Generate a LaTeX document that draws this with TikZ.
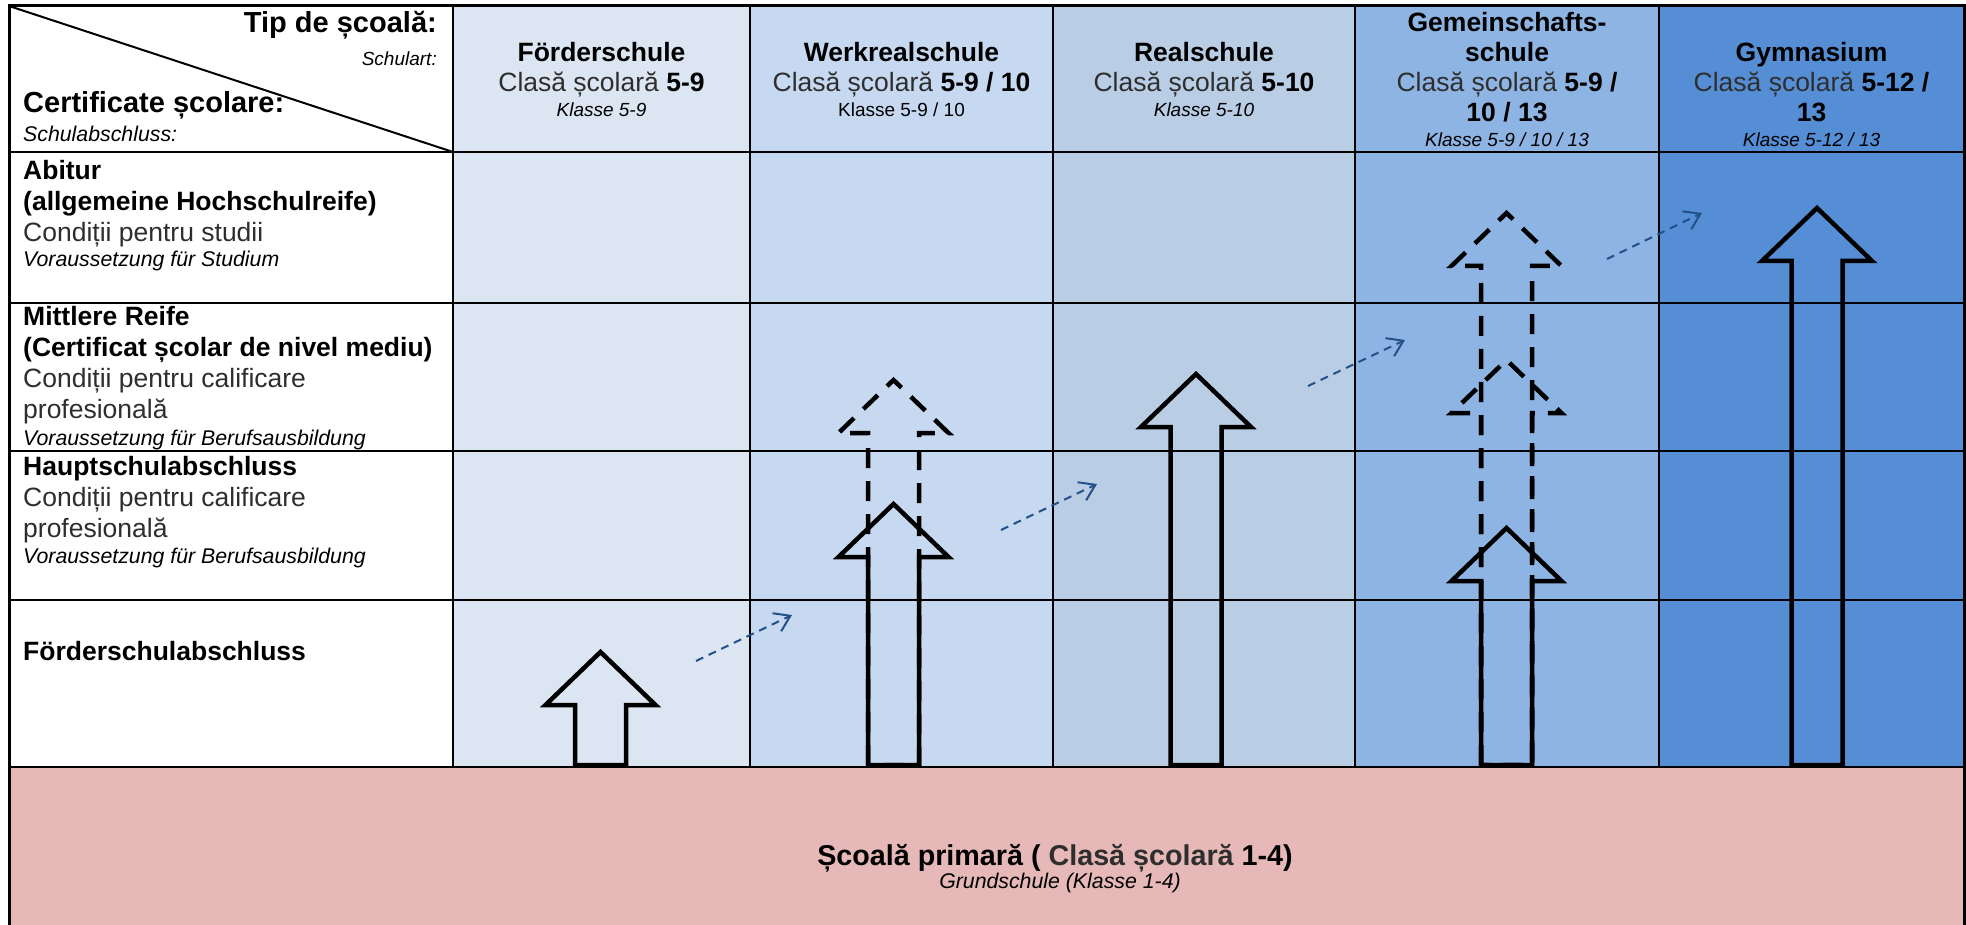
\documentclass[tikz,border=0pt]{standalone}
\usepackage{fontspec}
\setmainfont{Liberation Sans}
\usepackage{tikz}
\usetikzlibrary{positioning}
\usetikzlibrary{arrows.meta}

\definecolor{colFoerder}{HTML}{DCE6F2}
\definecolor{colWerk}{HTML}{C6D9F1}
\definecolor{colReal}{HTML}{B9CDE5}
\definecolor{colGemein}{HTML}{8EB4E3}
\definecolor{colGym}{HTML}{558ED5}
\definecolor{colPrimary}{HTML}{E6B9B8}
\definecolor{switchBlue}{HTML}{24508A}
\definecolor{textgray}{HTML}{2E2E2E}

\newcommand{\mainsize}{\fontsize{26.5}{30}\selectfont}
\newcommand{\rowsize}{\fontsize{26.5}{31}\selectfont}
\newcommand{\bigsize}{\fontsize{29}{34}\selectfont}
\newcommand{\notesize}{\fontsize{21.3}{26}\selectfont}
\newcommand{\smallsize}{\fontsize{19}{25}\selectfont}
\newcommand{\clasa}[1]{{\color{textgray}Clasă școlară} \textbf{#1}}

% grade arrow: [style]{x of centre}{y of tip}
\newcommand{\gradearrow}[3][path_solid]{%
  \draw[#1] ({#2-25.5},765) -- ({#2-25.5},{#3+53}) -- ({#2-55},{#3+53}) -- (#2,#3)
    -- ({#2+55},{#3+53}) -- ({#2+25.5},{#3+53}) -- ({#2+25.5},765) -- cycle;}

\tikzset{
        % Lines of the table
        grid_line/.style={black, line width=2pt},
        % Outer frame
        frame_line/.style={black, line width=3pt},
        % Column heads (placed by their last line)
        head_text/.style={align=center, inner sep=0pt, anchor=base, font=\mainsize},
        % Row heads (placed by their last line)
        row_text/.style={align=left, inner sep=0pt, anchor=base west, font=\rowsize},
        % Solid arrows
        path_solid/.style={draw=black, line width=4.5pt},
        % Dashed arrows
        path_dashed/.style={path_solid, dash pattern=on 20pt off 13pt},
        % Change-over arrows
        switch_arrow/.style={draw=switchBlue, line width=2pt, dash pattern=on 8pt off 6pt,
                -{Straight Barb[length=15pt,width=20pt]}}
}

\begin{document}
\begin{tikzpicture}[x=1pt, y=-1pt]
    \useasboundingbox (0,0) rectangle (1966,925);
    % cells
    \foreach \xa/\xb/\c in {453/750/colFoerder, 750/1053/colWerk, 1053/1355/colReal,
            1355/1659/colGemein, 1659/1964.5/colGym}
        \fill[\c] (\xa,6) rectangle (\xb,767);
    \fill[colPrimary] (9,767) rectangle (1964.5,925);

    % lines
    \foreach \y in {152,303,451,600,767}
        \draw[grid_line] (9,\y) -- (1964.5,\y);
    \foreach \x in {453,750,1053,1355,1659}
        \draw[grid_line] (\x,6) -- (\x,767);
    \draw[grid_line] (9,6) -- (453,152);
    \draw[frame_line] (9,925) -- (9,6) -- (1964.5,6) -- (1964.5,925);

    % corner cell
    \node[anchor=base east, inner sep=0pt, font=\bigsize] (type) at (437,33) {\textbf{Tip de școală:}};
    \node[anchor=base east, inner sep=0pt, font=\smallsize\itshape] (type_de) at (437,66) {Schulart:};
    \node[anchor=base west, inner sep=0pt, font=\bigsize] (cert) at (23,113) {\textbf{Certificate școlare:}};
    \node[anchor=base west, inner sep=0pt, font=\notesize\itshape] (cert_de) at (23,142) {Schulabschluss:};

    % column heads
    \node[head_text] (head_foerder) at (601.5,117) {\textbf{Förderschule}\\ \clasa{5-9}\\[-5pt] {\smallsize\itshape Klasse 5-9}};
    \node[head_text] (head_werk) at (901.5,117) {\textbf{Werkrealschule}\\ \clasa{5-9 / 10}\\[-5pt] {\smallsize Klasse 5-9 / 10}};
    \node[head_text] (head_real) at (1204,117) {\textbf{Realschule}\\ \clasa{5-10}\\[-5pt] {\smallsize\itshape Klasse 5-10}};
    \node[head_text] (head_gemein) at (1507,147) {\textbf{Gemeinschafts-}\\ \textbf{schule}\\ \clasa{5-9 /}\\ \textbf{10 / 13}\\[-5pt] {\smallsize\itshape Klasse 5-9 / 10 / 13}};
    \node[head_text] (head_gym) at (1811.5,147) {\textbf{Gymnasium}\\ \clasa{5-12 /}\\ \textbf{13}\\[-5pt] {\smallsize\itshape Klasse 5-12 / 13}};

    % row heads
    \node[row_text] (row_abitur) at (23,267) {\textbf{Abitur}\\ \textbf{(allgemeine Hochschulreife)}\\ {\color{textgray}Condiții pentru studii}\\[-6pt] {\notesize\itshape Voraussetzung für Studium}};
    \node[row_text] (row_mittlere) at (23,445) {\textbf{Mittlere Reife}\\ \textbf{(Certificat școlar de nivel mediu)}\\ {\color{textgray}Condiții pentru calificare}\\ {\color{textgray}profesională}\\[-4pt] {\notesize\itshape Voraussetzung für Berufsausbildung}};
    \node[row_text] (row_haupt) at (23,563) {\textbf{Hauptschulabschluss}\\ {\color{textgray}Condiții pentru calificare}\\ {\color{textgray}profesională}\\[-5pt] {\notesize\itshape Voraussetzung für Berufsausbildung}};
    \node[row_text] (row_foerder) at (23,660) {\textbf{Förderschulabschluss}};

    % primary school
    \node[anchor=base, inner sep=0pt, font=\fontsize{28.7}{34}\selectfont\bfseries] (primary) at (1055,865) {Școală primară ( {\color{textgray}Clasă școlară} 1-4)};
    \node[anchor=base, inner sep=0pt, font=\notesize\itshape] (primary_de) at (1060,888) {Grundschule (Klasse 1-4)};

    % grade arrows
    \gradearrow{600.5}{652}
    \gradearrow[path_dashed]{893.5}{380}
    \gradearrow{893.5}{504}
    \gradearrow{1196}{374}
    \gradearrow[path_dashed]{1506.5}{213}
    \gradearrow[path_dashed]{1506.5}{360}
    \gradearrow{1506.5}{528}
    \gradearrow{1817}{208}

    % change-over arrows
    \foreach \n/\xa/\ya/\xb/\yb in {a/696/661/792/615, b/1001/530/1097/484,
            c/1308/386/1405/340, d/1607/259/1702/213} {
        \coordinate (sw_\n_from) at (\xa,\ya);
        \coordinate (sw_\n_to) at (\xb,\yb);
        \draw[switch_arrow] (sw_\n_from) -- (sw_\n_to);
    }
\end{tikzpicture}
\end{document}
